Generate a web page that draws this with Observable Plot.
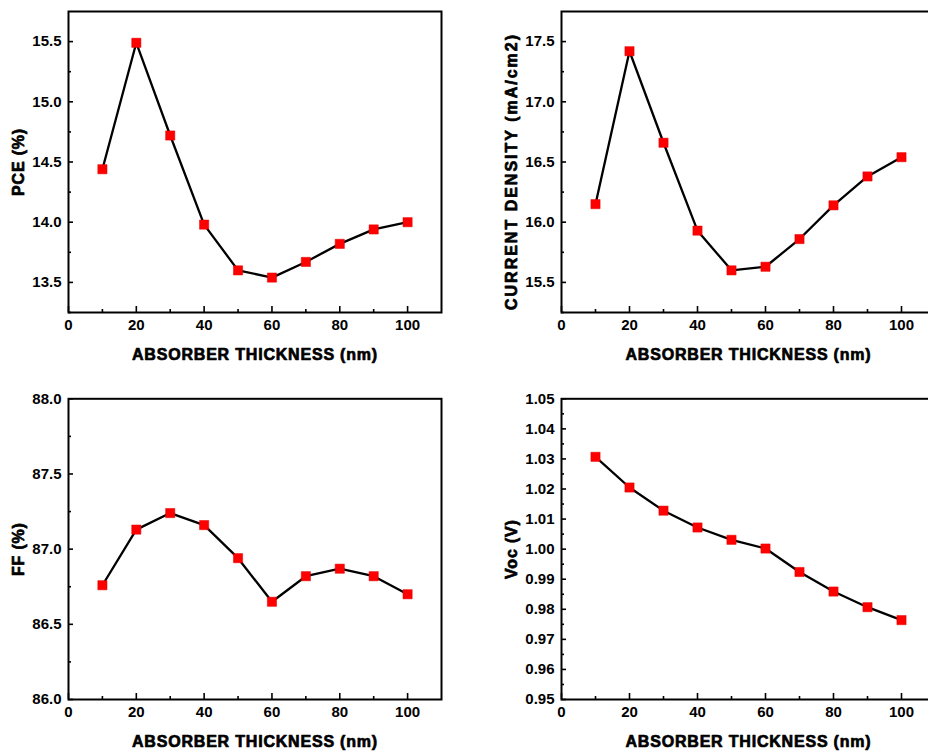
<!DOCTYPE html>
<html>
<head>
<meta charset="utf-8">
<script src="https://cdn.jsdelivr.net/npm/d3@7"></script>
<script src="https://cdn.jsdelivr.net/npm/@observablehq/plot@0.6"></script>
<style>
html, body { margin: 0; padding: 0; background: #fff; overflow: hidden; }
#wrap { position: relative; width: 928px; height: 751px; overflow: hidden; background: #fff; }
#wrap svg { position: absolute; overflow: visible; }
</style>
</head>
<body>
<div id="wrap"></div>
<script>
// ---- data ----
const thickness = [10, 20, 30, 40, 50, 60, 70, 80, 90, 100];
const pce = [14.44, 15.49, 14.72, 13.98, 13.60, 13.54, 13.67, 13.82, 13.94, 14.00];
const currentDensity = [16.15, 17.42, 16.66, 15.93, 15.60, 15.63, 15.86, 16.14, 16.38, 16.54];
const fillFactor = [86.76, 87.13, 87.24, 87.16, 86.94, 86.65, 86.82, 86.87, 86.82, 86.70];
const voc = [1.0307, 1.0205, 1.0128, 1.0072, 1.0031, 1.0002, 0.9924, 0.9859, 0.9807, 0.9764];

const xLabel = "ABSORBER THICKNESS (nm)";
const yLabels = ["PCE (%)", "CURRENT DENSITY (mA/cm2)", "FF (%)", "Voc (V)"];
const xMajorTicks = [0, 20, 40, 60, 80, 100];
const xMinorTicks = [10, 30, 50, 70, 90];
const pceTicks = [13.5, 14.0, 14.5, 15.0, 15.5];
const pceMinor = [13.25, 13.75, 14.25, 14.75, 15.25];
const jTicks = [15.5, 16.0, 16.5, 17.0, 17.5];
const jMinor = [15.25, 15.75, 16.25, 16.75, 17.25];
const ffTicks = [86.0, 86.5, 87.0, 87.5, 88.0];
const ffMinor = [86.25, 86.75, 87.25, 87.75];
const vocTicks = [0.95, 0.96, 0.97, 0.98, 0.99, 1.00, 1.01, 1.02, 1.03, 1.04, 1.05];
const vocMinor = [0.955, 0.965, 0.975, 0.985, 0.995, 1.005, 1.015, 1.025, 1.035, 1.045];

// ---- layout ----
const panels = [
  {values: pce, label: yLabels[0], domain: [13.25, 15.75], major: pceTicks, minor: pceMinor, fmt: ".1f",
   left: 0, top: 0, width: 464, height: 375, mL: 68, mT: 11, mR: 23, mB: 63, ls: 0.8, ldy: 0},
  {values: currentDensity, label: yLabels[1], domain: [15.25, 17.75], major: jTicks, minor: jMinor, fmt: ".1f",
   left: 464, top: 0, width: 480, height: 375, mL: 97, mT: 11, mR: 9, mB: 63, ls: 2.0, ldy: 9.5},
  {values: fillFactor, label: yLabels[2], domain: [86, 88], major: ffTicks, minor: ffMinor, fmt: ".1f",
   left: 0, top: 376, width: 464, height: 375, mL: 68, mT: 22.3, mR: 23, mB: 52, ls: 0.8, ldy: 0},
  {values: voc, label: yLabels[3], domain: [0.95, 1.05], major: vocTicks, minor: vocMinor, fmt: ".2f",
   left: 464, top: 376, width: 480, height: 375, mL: 97, mT: 22.3, mR: 9, mB: 52, ls: 0.8, ldy: 0}
];

const FONT = "'Liberation Sans', Arial, Helvetica, sans-serif";
const wrap = document.getElementById("wrap");

for (const p of panels) {
  const data = thickness.map((t, i) => ({t, v: p.values[i]}));
  const svg = Plot.plot({
    width: p.width,
    height: p.height,
    marginLeft: p.mL,
    marginTop: p.mT,
    marginRight: p.mR,
    marginBottom: p.mB,
    style: {fontFamily: FONT, fontSize: "15px", fontWeight: "bold", color: "#000", background: "transparent", overflow: "visible"},
    x: {domain: [0, 110]},
    y: {domain: p.domain},
    marks: [
      Plot.frame({stroke: "#000", strokeWidth: 2}),
      // tick labels
      Plot.axisX(xMajorTicks, {tickSize: 0, tickPadding: 7, fontSize: 15, fontWeight: "bold", label: null, tickFormat: d => String(d)}),
      Plot.axisY(p.major, {tickSize: 0, tickPadding: 7, fontSize: 15, fontWeight: "bold", label: null, tickFormat: d3.format(p.fmt)}),
      // inward tick marks
      Plot.axisX(xMajorTicks, {tickSize: -6, fill: "none", strokeWidth: 1.6, label: null}),
      Plot.axisX(xMinorTicks, {tickSize: -3, fill: "none", strokeWidth: 1.6, label: null}),
      Plot.axisY(p.major, {tickSize: -5, fill: "none", strokeWidth: 1.6, label: null}),
      Plot.axisY(p.minor, {tickSize: -3, fill: "none", strokeWidth: 1.6, label: null}),
      // data
      Plot.line(data, {x: "t", y: "v", stroke: "#000", strokeWidth: 2.3}),
      Plot.dot(data, {x: "t", y: "v", symbol: "square", r: 5.2, fill: "#ff0000", stroke: "#e00000", strokeWidth: 0.5}),
      // axis titles
      Plot.text([xLabel], {text: d => d, frameAnchor: "bottom", textAnchor: "middle", lineAnchor: "middle", dy: 42, fontSize: 16, fontWeight: "bold", fill: "#000", stroke: "#000", strokeWidth: 0.7}),
      Plot.text([p.label], {text: d => d, frameAnchor: "left", textAnchor: "middle", lineAnchor: "middle", rotate: -90, dx: -50, dy: p.ldy, fontSize: 16, fontWeight: "bold", fill: "#000", stroke: "#000", strokeWidth: 0.7})
    ]
  });
  svg.style.left = p.left + "px";
  svg.style.top = p.top + "px";
  d3.select(svg).selectAll('g[aria-label="text"] text').each(function() {
    const s = d3.select(this);
    s.style("letter-spacing", (s.text() === xLabel ? 0.8 : p.ls) + "px");
  });
  wrap.appendChild(svg);
}
</script>
</body>
</html>
